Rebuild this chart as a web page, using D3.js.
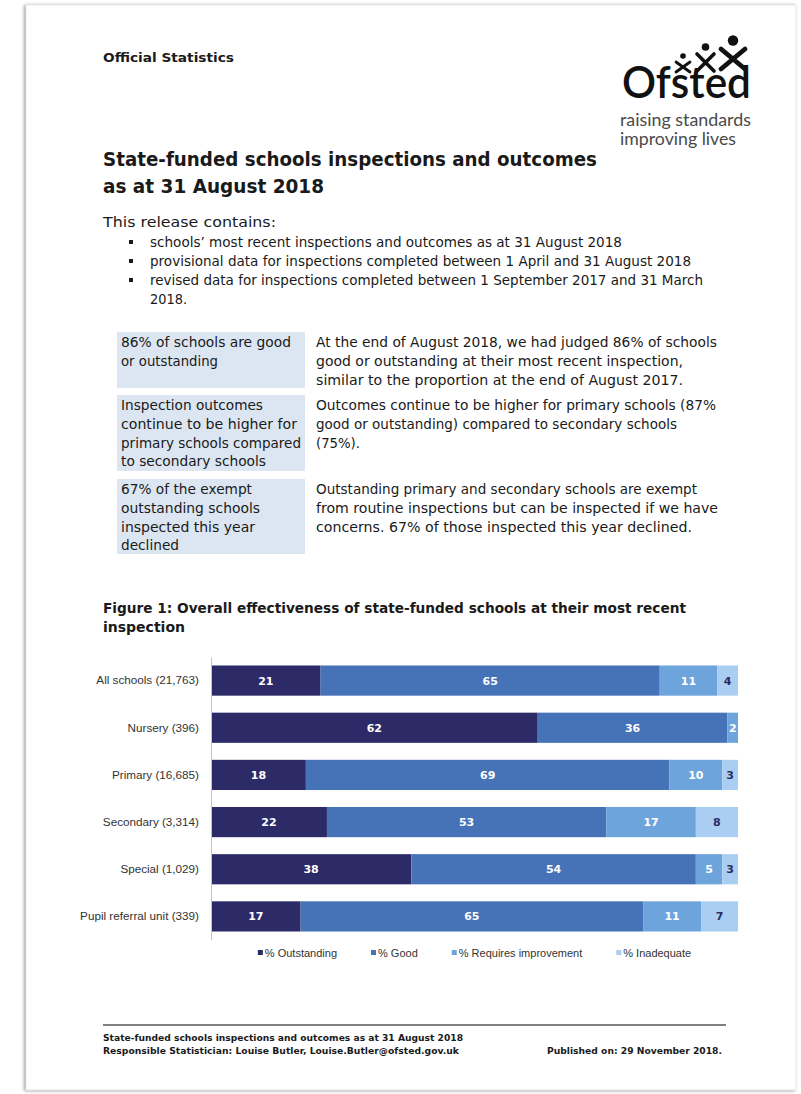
<!DOCTYPE html>
<html>
<head>
<meta charset="utf-8">
<script src="https://cdn.jsdelivr.net/npm/d3@7"></script>
<style>
  html, body { margin: 0; padding: 0; background: #ffffff; }
  svg { display: block; }
</style>
</head>
<body>
<svg id="page" width="801" height="1094"></svg>
<script>
// Figure 1 data: overall effectiveness at most recent inspection (%)
const categories = [
  "All schools (21,763)",
  "Nursery (396)",
  "Primary (16,685)",
  "Secondary (3,314)",
  "Special (1,029)",
  "Pupil referral unit (339)"
];
const outstanding         = [21, 62, 18, 22, 38, 17];
const good                = [65, 36, 69, 53, 54, 65];
const requiresImprovement = [11,  2, 10, 17,  5, 11];
const inadequate          = [ 4,  0,  3,  8,  3,  7];
const seriesKeys   = ["outstanding", "good", "requiresImprovement", "inadequate"];
const seriesLabels = ["% Outstanding", "% Good", "% Requires improvement", "% Inadequate"];

const seriesColors = {
  outstanding: "#2c2b67",
  good: "#4672b8",
  requiresImprovement: "#6ea4dc",
  inadequate: "#a9cef1"
};
const labelColors = {
  outstanding: "#ffffff",
  good: "#ffffff",
  requiresImprovement: "#ffffff",
  inadequate: "#2c2b67"
};

const BODY = "'DejaVu Sans', Verdana, sans-serif";
const CHART = "'Liberation Sans', Arial, sans-serif";
const LOGO = "Lato, 'Open Sans', sans-serif";

const svg = d3.select("#page");

// page sheet with a soft edge shadow
const defs = svg.append("defs");
const f = defs.append("filter").attr("id", "sheetShadow")
  .attr("x", "-5%").attr("y", "-5%").attr("width", "110%").attr("height", "110%");
f.append("feDropShadow").attr("dx", -1.5).attr("dy", 0.5)
  .attr("stdDeviation", 1.6).attr("flood-color", "#6f6f6f").attr("flood-opacity", 0.7);

svg.append("rect").attr("x", 26).attr("y", 5).attr("width", 770).attr("height", 1085)
  .attr("fill", "#ffffff").attr("stroke", "#e4e4e4").attr("stroke-width", 0.8)
  .attr("filter", "url(#sheetShadow)");

// text helper; optional fitted width
function text(parent, x, y, str, o = {}) {
  const t = parent.append("text")
    .attr("x", x).attr("y", y)
    .attr("font-family", o.family || BODY)
    .attr("font-size", o.size || 13)
    .attr("font-weight", o.weight || "normal")
    .attr("fill", o.fill || "#1a1a1a")
    .attr("text-anchor", o.anchor || "start")
    .text(str);
  if (o.width) t.attr("textLength", o.width).attr("lengthAdjust", "spacingAndGlyphs");
  return t;
}

// ---- header ----
text(svg, 103, 62, "Official Statistics", { size: 13, weight: "bold", width: 131 });

// Ofsted mark: three figures of increasing size above the word
const logo = svg.append("g").attr("stroke", "#111").attr("stroke-linecap", "round");
[
  { x0: 676, x1: 690, y0: 62, y1: 72, hx: 683, hy: 56, r: 2.8, sw: 2.8 },
  { x0: 697, x1: 714, y0: 54, y1: 71, hx: 705.5, hy: 47, r: 3.8, sw: 3.6 },
  { x0: 721, x1: 745, y0: 49, y1: 69, hx: 733, hy: 40.5, r: 5.2, sw: 4.8 }
].forEach(p => {
  logo.append("circle").attr("cx", p.hx).attr("cy", p.hy)
    .attr("r", p.r).attr("fill", "#111").attr("stroke", "none");
  logo.append("path")
    .attr("d", `M${p.x0},${p.y0} L${p.x1},${p.y1} M${p.x1},${p.y0} L${p.x0},${p.y1}`)
    .attr("stroke-width", p.sw).attr("fill", "none");
});
text(svg, 622, 98, "Ofsted", { family: LOGO, size: 44, weight: 600, fill: "#111", width: 129 });
text(svg, 620, 126, "raising standards", { family: LOGO, size: 17, fill: "#4a4a4a", width: 131 });
text(svg, 620, 145, "improving lives", { family: LOGO, size: 17, fill: "#4a4a4a", width: 116 });

// ---- title ----
text(svg, 103, 166, "State-funded schools inspections and outcomes", { size: 20, weight: "bold", width: 494 });
text(svg, 103, 193, "as at 31 August 2018", { size: 20, weight: "bold", width: 221 });

// ---- release contents ----
text(svg, 103, 227, "This release contains:", { size: 13.5, width: 173 });
const bullets = [
  ["schools\u2019 most recent inspections and outcomes as at 31 August 2018", 472],
  ["provisional data for inspections completed between 1 April and 31 August 2018", 541],
  ["revised data for inspections completed between 1 September 2017 and 31 March", 553],
  ["2018.", 37]
];
bullets.forEach((b, i) => {
  const y = 247 + i * 19;
  if (i < 3) svg.append("rect").attr("x", 129).attr("y", y - 7).attr("width", 4).attr("height", 4).attr("fill", "#1a1a1a");
  text(svg, 150, y, b[0], { size: 13.5, width: b[1] });
});

// ---- key findings table ----
const rows = [
  { top: 332, bottom: 388,
    left: [["86% of schools are good", 170], ["or outstanding", 97]],
    right: [["At the end of August 2018, we had judged 86% of schools", 401],
            ["good or outstanding at their most recent inspection,", 367],
            ["similar to the proportion at the end of August 2017.", 367]] },
  { top: 395, bottom: 471,
    left: [["Inspection outcomes", 142], ["continue to be higher for", 176], ["primary schools compared", 180], ["to secondary schools", 145]],
    right: [["Outcomes continue to be higher for primary schools (87%", 400],
            ["good or outstanding) compared to secondary schools", 361],
            ["(75%).", 44]] },
  { top: 479, bottom: 554,
    left: [["67% of the exempt", 131], ["outstanding schools", 139], ["inspected this year", 134], ["declined", 58]],
    right: [["Outstanding primary and secondary schools are exempt", 381],
            ["from routine inspections but can be inspected if we have", 402],
            ["concerns. 67% of those inspected this year declined.", 376]] }
];
rows.forEach(r => {
  svg.append("rect").attr("x", 117).attr("y", r.top).attr("width", 188).attr("height", r.bottom - r.top)
    .attr("fill", "#dce6f2");
  r.left.forEach((l, i) => text(svg, 121, r.top + 15 + i * 18.8, l[0], { size: 13.5, width: l[1] }));
  r.right.forEach((l, i) => text(svg, 316, r.top + 15 + i * 18.8, l[0], { size: 13.5, width: l[1] }));
});

// ---- figure title ----
text(svg, 103, 613, "Figure 1: Overall effectiveness of state-funded schools at their most recent", { size: 13.5, weight: "bold", width: 583 });
text(svg, 103, 632, "inspection", { size: 13.5, weight: "bold", width: 82 });

// ---- Figure 1: 100% stacked horizontal bars ----
const table = categories.map((c, i) => ({
  category: c,
  outstanding: outstanding[i],
  good: good[i],
  requiresImprovement: requiresImprovement[i],
  inadequate: inadequate[i]
}));

const stacked = d3.stack().keys(seriesKeys).offset(d3.stackOffsetExpand)(table);

const x = d3.scaleLinear().domain([0, 1]).range([211, 738]);
const y = d3.scaleBand().domain(categories).range([657, 940])
  .paddingInner(0.36).paddingOuter(0.18);

const chart = svg.append("g");

const layers = chart.selectAll("g.layer").data(stacked).join("g")
  .attr("class", "layer")
  .attr("fill", d => seriesColors[d.key]);

layers.selectAll("rect").data(d => d.map(s => ({ s, key: d.key }))).join("rect")
  .attr("x", d => x(d.s[0]))
  .attr("y", d => y(d.s.data.category))
  .attr("width", d => x(d.s[1]) - x(d.s[0]))
  .attr("height", y.bandwidth());

layers.selectAll("text").data(d => d.map(s => ({ s, key: d.key })).filter(d => d.s.data[d.key] > 0)).join("text")
  .attr("x", d => (x(d.s[0]) + x(d.s[1])) / 2)
  .attr("y", d => y(d.s.data.category) + y.bandwidth() / 2)
  .attr("dy", "0.36em")
  .attr("text-anchor", "middle")
  .attr("font-family", BODY)
  .attr("font-weight", "bold")
  .attr("font-size", 11)
  .attr("fill", d => labelColors[d.key])
  .text(d => d.s.data[d.key]);

// category axis
const yAxis = chart.append("g")
  .attr("transform", "translate(211,0)")
  .call(d3.axisLeft(y).tickSize(0).tickPadding(12));
yAxis.select(".domain").attr("stroke", "#c4c4c4").attr("stroke-width", 1);
yAxis.selectAll(".tick text")
  .attr("font-family", CHART).attr("font-size", 11.7).attr("fill", "#333");

// legend, centred under the plot
const legend = chart.append("g").attr("transform", "translate(0,953)");
const items = legend.selectAll("g").data(seriesKeys).join("g");
items.append("rect").attr("x", 0).attr("y", -3).attr("width", 5).attr("height", 5)
  .attr("fill", d => seriesColors[d]);
items.append("text").attr("x", 7).attr("y", 0).attr("dy", "0.35em")
  .attr("font-family", CHART).attr("font-size", 11).attr("fill", "#333")
  .text((d, i) => seriesLabels[i]);
const gap = 34;
let cursor = 0;
const offsets = [];
items.each(function () {
  offsets.push(cursor);
  cursor += this.getBBox().width + gap;
});
const legendWidth = cursor - gap;
const legendStart = (x.range()[0] + x.range()[1]) / 2 - legendWidth / 2;
items.attr("transform", (d, i) => `translate(${legendStart + offsets[i]},0)`);

// ---- footer ----
svg.append("line").attr("x1", 103).attr("x2", 726).attr("y1", 1025).attr("y2", 1025)
  .attr("stroke", "#555").attr("stroke-width", 1.5);
text(svg, 103, 1041, "State-funded schools inspections and outcomes as at 31 August 2018", { size: 9, weight: "bold", width: 360 });
text(svg, 103, 1054, "Responsible Statistician: Louise Butler, Louise.Butler@ofsted.gov.uk", { size: 9, weight: "bold", width: 356 });
text(svg, 722, 1054, "Published on: 29 November 2018.", { size: 9, weight: "bold", anchor: "end", width: 175 });
</script>
</body>
</html>
